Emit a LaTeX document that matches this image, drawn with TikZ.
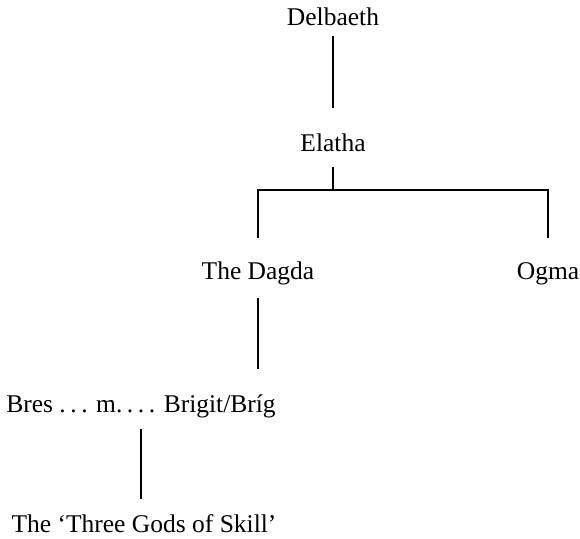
\documentclass[tikz,border=0pt]{standalone}
\usepackage{fontspec}
\setmainfont{Liberation Serif}
\usetikzlibrary{calc}
\usetikzlibrary{positioning}

\newcommand{\dotgap}{\kern.18em}

\begin{document}
\begin{tikzpicture}[line width=1.6pt, on grid,                                              % Heavier rules
                        person/.style = {inner sep=0pt, text height=17pt, text depth=5pt,
                                         font=\fontsize{25.5}{30}\selectfont},              % Name nodes
                        descent/.style = {shorten <= 9pt, shorten >= 24pt}]                 % Lines of descent
        \useasboundingbox (0,0) rectangle (580pt,538pt);
        \node[person] (delbaeth) at (333pt,518pt) {Delbaeth};
        \node[person] (elatha) [below =126pt of delbaeth] {Elatha};
        \node[person] (dagda) [below left =128pt and 75pt of elatha] {The Dagda};
        \node[person] (ogma) [below right =128pt and 215pt of elatha] {Ogma};
        \node[person] (bres) [below left =132pt and 117pt of dagda]
            {Bres .\dotgap.\dotgap. m.\dotgap.\dotgap.\dotgap. Brigit/Bríg};
        \node[person] (gods) [below right =120pt and 3pt of bres] {The ‘Three Gods of Skill’};
        \coordinate (fork) at ($(elatha.south)+(0,-32pt)$);
        %edge:parent-child
        \draw[descent, shorten <= 4pt, shorten >= 26pt] (delbaeth) -- (elatha);
        \draw[descent, shorten >= 0pt] (elatha) -- (fork);
        %edge:siblings
        \draw[descent, shorten <= 0pt] (fork) -| (dagda);
        \draw[descent, shorten <= 0pt] (fork) -| (ogma);
        %edge:marriage
        \draw[descent, shorten <= 12pt, shorten >= 25pt] (dagda) -- (dagda |- bres.north);
        \draw[descent, shorten <= 11pt, shorten >= 15pt] (bres) -- (bres |- gods.north);
    \end{tikzpicture}
\end{document}
